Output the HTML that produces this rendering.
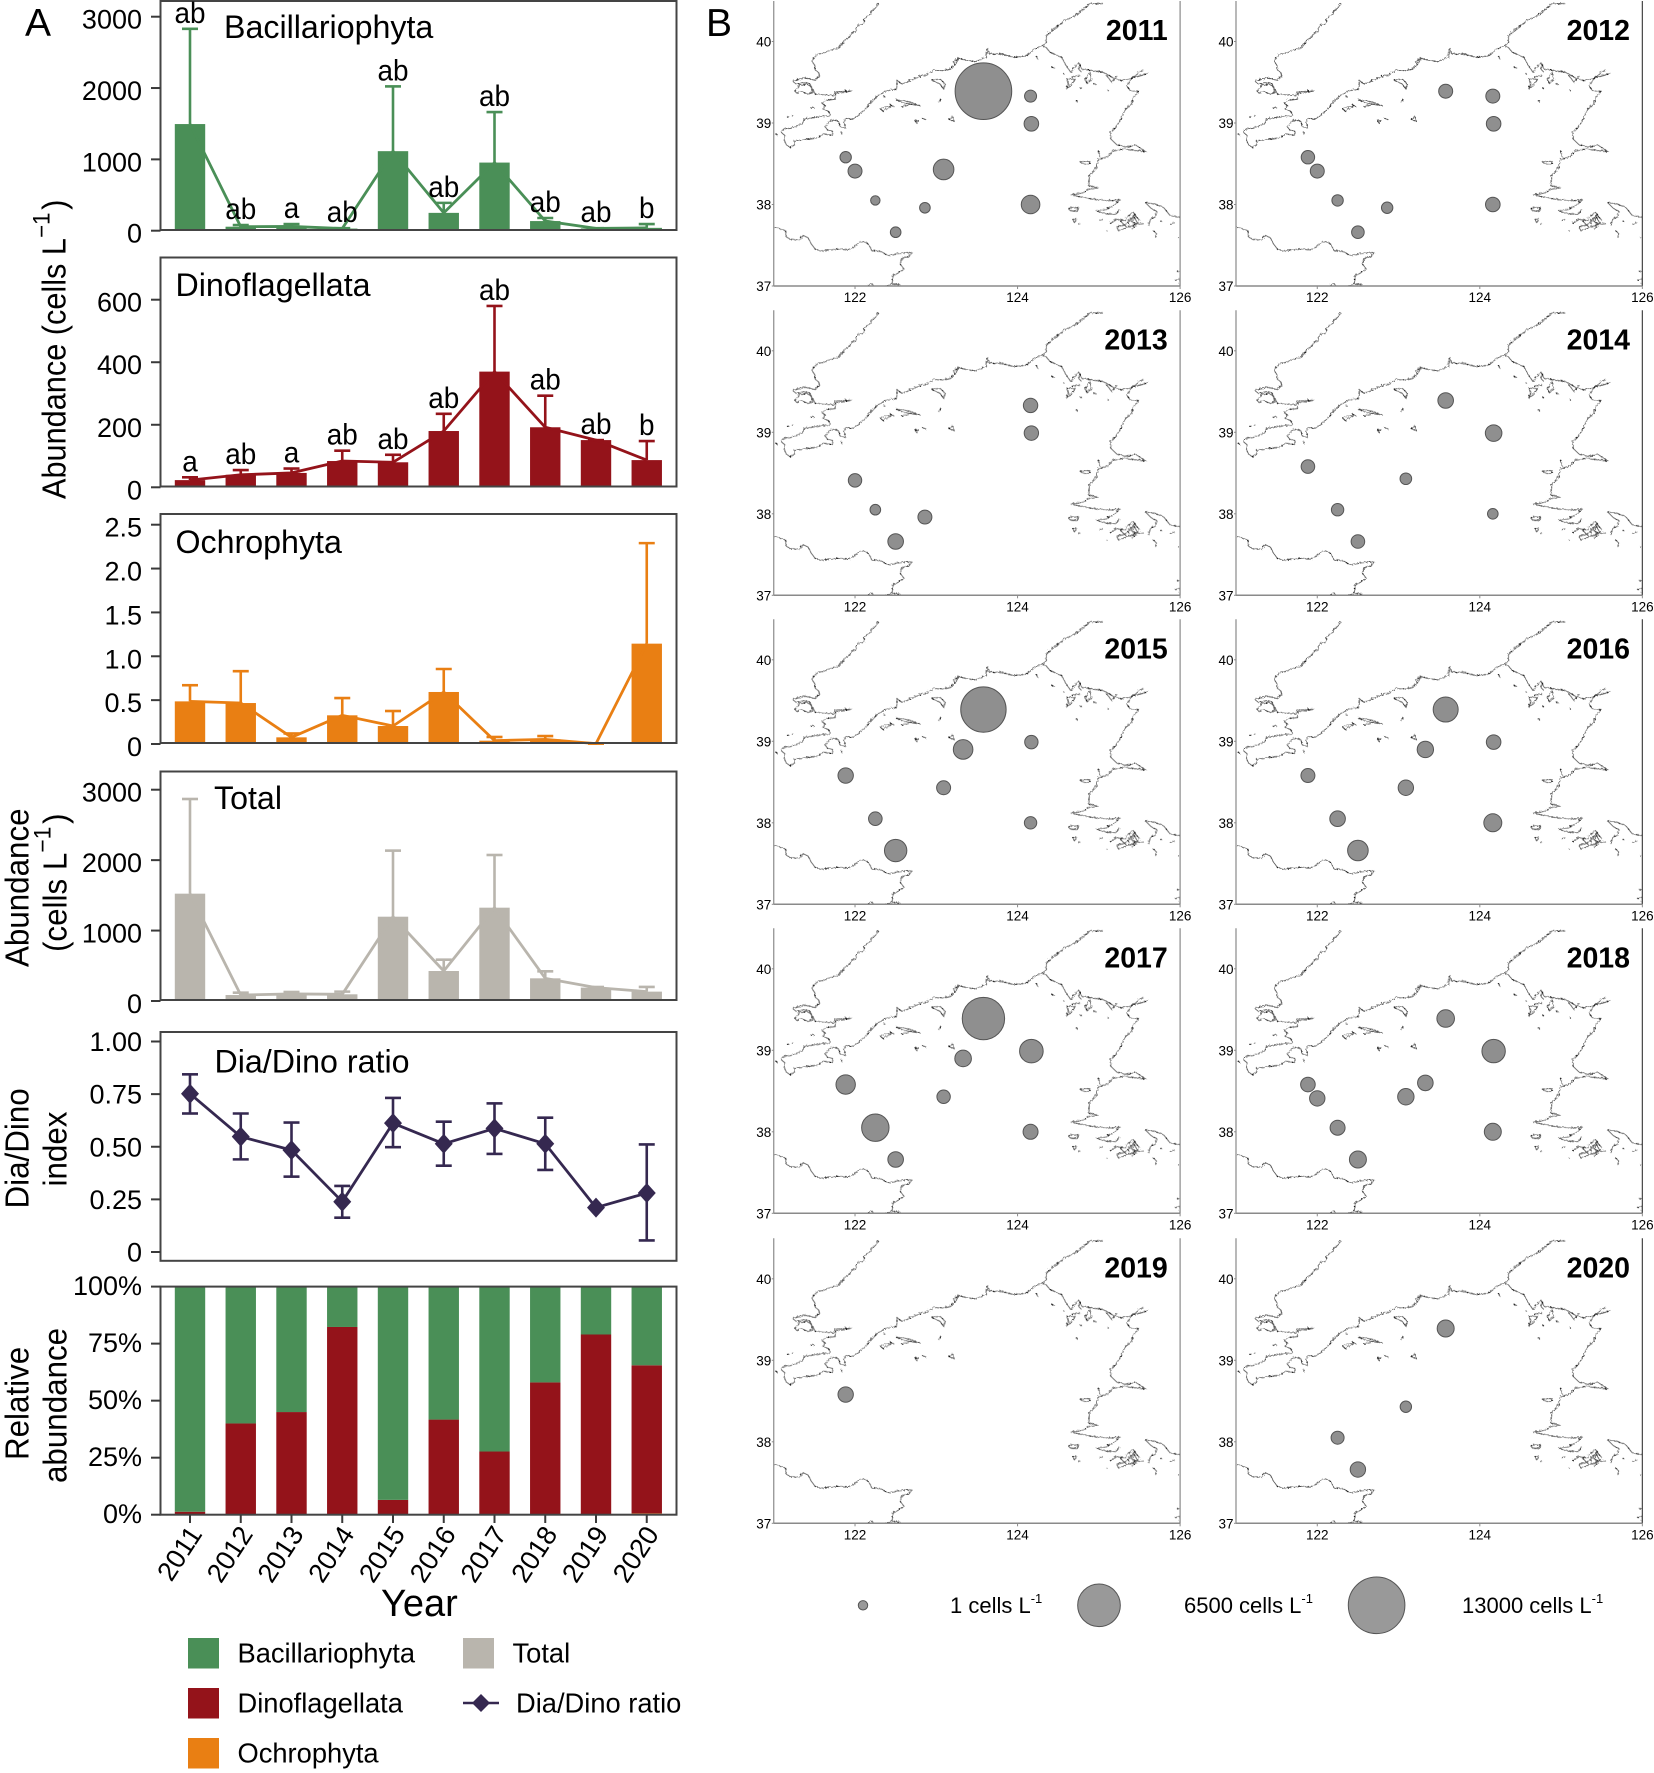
<!DOCTYPE html>
<html lang="en">
<head>
<meta charset="utf-8">
<title>Phytoplankton abundance 2011-2020</title>
<style>
html,body{margin:0;padding:0;background:#fff;}
svg{display:block;font-family:"Liberation Sans",Arial,sans-serif;}
text{fill:#000;}
</style>
</head>
<body>
<svg id="fig" xmlns="http://www.w3.org/2000/svg" width="1654" height="1773" viewBox="0 0 1654 1773">
<rect x="0" y="0" width="1654" height="1773" fill="#fff"/>
<defs>
<filter id="rough" x="-3%" y="-3%" width="106%" height="106%" filterUnits="objectBoundingBox">
<feTurbulence type="turbulence" baseFrequency="0.11" numOctaves="2" seed="4" result="n"/>
<feDisplacementMap in="SourceGraphic" in2="n" scale="8"/>
</filter>
<g id="coastLines">
<g transform="translate(210,0)">
<path d="M325 8 L318 18 L308 28 L300 42 L288 48 L282 56 L283 68 L268 72 L258 82 L258 92 L245 98 L238 108 L225 118 L218 126 L208 140 L195 146 L180 148 L165 155 L145 160 L130 172 L126 182 L134 195 L135 208 L145 215 L148 225 L135 238 L105 232 L85 236 L68 242 L78 250 L100 246 L118 248 L126 262 L135 280 L165 282 L190 285 L195 273 L220 272 L245 270 L215 276 L198 278 L195 295 L170 298 L155 308 L165 315 L158 325 L175 332 L182 345 L150 348 L125 352 L103 355 L95 370 L70 380 L40 386 L33 395 L45 405 L42 418 L48 432 L60 440 L72 432 L74 420 L95 418 L115 415 L140 412 L160 400 L186 403 L188 392 L172 388 L165 378 L176 366 L190 358 L205 362 L210 378 L225 382 L222 362 L228 352 L245 356 L262 345 L272 338 L285 325 L300 308 L312 295 L325 282 L350 270 L378 265 L382 240 L395 250 L420 240 L442 230 L470 222 L495 208 L520 210 L540 205 L555 192 L550 185 L565 172"/>
<path d="M485 238 L510 235 L525 250 L520 265 L510 250 Z M330 325 L345 318 L365 315 L340 332 Z M378 298 L405 300 L450 315 L420 310 L395 305 Z M395 318 L425 310 M360 312 L372 318 M435 362 L445 358 L440 368 Z M455 352 L470 358 M535 355 L548 348 L552 362 Z M75 272 L88 254 L110 250 L122 258 L128 275 L112 280 L95 272 L80 278 Z M50 348 L58 348 M65 345 L70 345 M122 322 L135 322 M18 402 L22 402 M215 395 L215 402 M512 295 L505 305 M340 288 L346 288"/>
</g>
<path d="M763 195 L775 172 L803 180 L828 182 L858 170 L863 142 L868 160 L903 160 L943 170 L978 165 L1003 145 L1028 135 L1038 125 L1038 105 L1063 85 L1093 60 L1133 40 L1168 10 L1208 8"/>
<g transform="translate(900,0)">
<path d="M125 135 L138 140 L150 155 L185 170 L195 190 L212 215 L235 185 L245 205 L275 210 L310 215 L340 232 L365 240 L395 232 L420 212 L430 208"/>
<path d="M400 230 L445 217" style="stroke-width:3"/>
<path d="M395 232 L380 255 L390 270 L415 272 L400 290 L395 310 L375 325 L365 350 L350 375 L332 395 L332 415 L350 432 L380 440 L405 432 L440 455 L415 450 L370 445 L340 450 L320 470 L295 475 L290 500 L268 525 L265 555 L295 562 L265 565 L250 575 L213 583 L250 590 L290 597 L325 600 L360 597 L345 610 L320 625 L290 632 L320 640 L345 640 L360 628"/>
<path d="M435 605 L465 610 L490 620 L510 645 L540 650 M435 605 L455 625 L470 632 L465 648 L450 655 L445 675"/>
<path d="M240 483 L270 482 L268 492 L245 488 Z M205 622 L235 620 L230 632 L210 630 Z M218 655 L230 655 L222 665 Z M235 672 L240 668 M298 660 L308 655 M295 450 L300 470 M330 668 L350 655 L375 660 L385 645 L400 635 L410 650 L420 660 L400 675 L380 680 L355 690 L350 678 L375 672 L390 655 L405 640 L395 665 L420 670 L430 668 M385 670 L400 645 L412 668 L395 685 M360 660 L380 680 M460 690 L470 700 L465 710 M510 672 L525 665 M480 660 L485 662 M530 812 L540 812 M525 838 L540 835 L538 855 M534 710 L536 712 M320 690 L322 692"/>
<path d="M200 235 L225 235 L215 250 L200 265 L205 245 Z M255 235 L270 215 L275 235 L260 248 Z M240 190 L235 205 L245 215 M320 225 L335 245 L350 225 M155 200 L165 203 M190 218 L192 220 M232 300 L230 305 M322 268 L325 270 M108 165 L112 175 M240 262 L246 262 M215 230 L240 225 M280 250 L290 252"/>
</g>
<path d="M223 680 L240 684 L256 690 L258 708 L270 716 L300 718 L308 703 L325 712 L332 728 L345 745 L365 752 L385 748 L420 745 L450 748 L470 730 L488 722 L505 730 L515 750 L540 752 L565 765 L595 758 L635 755 L625 768 L608 772 L600 790 L612 805 L595 815 L578 825 L575 850 L600 852 M505 855 L515 848 L522 858 M560 855 L575 852"/>
</g>
<symbol id="coast" viewBox="223 0 1219 858" preserveAspectRatio="none" overflow="hidden">
<g filter="url(#rough)">
<g fill="none" stroke="#555" stroke-width="2.5" stroke-linejoin="round"><use href="#coastLines"/></g>
<g fill="none" stroke="#111" stroke-width="3" stroke-dasharray="4 30"><use href="#coastLines"/></g>
</g>
</symbol>
</defs>

<text x="25" y="36" font-size="39">A</text>
<text x="706" y="36" font-size="39">B</text>

<text transform="translate(65.5,499) rotate(-90) scale(0.93,1)" font-size="33">Abundance (cells L<tspan dy="-16" font-size="24">−1</tspan><tspan dy="16" dx="3">)</tspan></text>
<text transform="translate(28.5,967) rotate(-90) scale(0.95,1)" font-size="33">Abundance</text>
<text transform="translate(66.5,952) rotate(-90) scale(0.95,1)" font-size="33">(cells L<tspan dy="-16" font-size="24">−1</tspan><tspan dy="16" dx="3">)</tspan></text>
<text transform="translate(28.5,1208.5) rotate(-90) scale(0.95,1)" font-size="33">Dia/Dino</text>
<text transform="translate(66.5,1186.5) rotate(-90) scale(0.95,1)" font-size="33">index</text>
<text transform="translate(28.5,1460) rotate(-90) scale(0.95,1)" font-size="33">Relative</text>
<text transform="translate(66.5,1483) rotate(-90) scale(0.95,1)" font-size="33">abundance</text>
<text x="381" y="1616" font-size="38">Year</text>

<g font-size="27.3">
<rect x="188" y="1638" width="31" height="30.5" fill="#4a8f57"/>
<text x="237.5" y="1662.5">Bacillariophyta</text>
<rect x="188" y="1688" width="31" height="30.5" fill="#94131a"/>
<text x="237.5" y="1712.5">Dinoflagellata</text>
<rect x="188" y="1738" width="31" height="30.5" fill="#e97f13"/>
<text x="237.5" y="1762.5">Ochrophyta</text>
<rect x="463" y="1638" width="31" height="30.5" fill="#b9b5ad"/>
<text x="512.5" y="1662.5">Total</text>
<line x1="463" y1="1703" x2="499" y2="1703" stroke="#352850" stroke-width="2.5"/>
<path d="M481 1694 L490 1703 L481 1712 L472 1703 Z" fill="#352850"/>
<text x="516" y="1712.5">Dia/Dino ratio</text>
</g>

<g id="panels"></g>
<g id="maps"></g>
<g id="sizeLegend" font-size="22">
<text x="950" y="1613">1 cells L<tspan dy="-10" font-size="13">-1</tspan></text>
<text x="1184" y="1613">6500 cells L<tspan dy="-10" font-size="13">-1</tspan></text>
<text x="1462" y="1613">13000 cells L<tspan dy="-10" font-size="13">-1</tspan></text>
</g>
</svg>

<script>
// ---------- chart data ----------
const years = [2011, 2012, 2013, 2014, 2015, 2016, 2017, 2018, 2019, 2020];

const bacilMeans = [1495, 56, 60, 30, 1115, 250, 955, 135, 32, 40];
const bacilUpper = [2830, 80, 93, 35, 2023, 390, 1663, 178, 35, 93];
const bacilLetters = ['ab', 'ab', 'a', 'ab', 'ab', 'ab', 'ab', 'ab', 'ab', 'b'];
const bacilTicks = [0, 1000, 2000, 3000];

const dinoMeans = [23, 40, 46, 84, 80, 180, 370, 192, 151, 87];
const dinoUpper = [32, 55, 60, 117, 104, 235, 580, 293, 151, 148];
const dinoLetters = ['a', 'ab', 'a', 'ab', 'ab', 'ab', 'ab', 'ab', 'ab', 'b'];
const dinoTicks = [0, 200, 400, 600];

const ochroMeans = [0.486, 0.467, 0.076, 0.327, 0.205, 0.593, 0.038, 0.053, 0.004, 1.144];
const ochroUpper = [0.67, 0.83, 0.12, 0.524, 0.376, 0.855, 0.08, 0.09, 0.004, 2.29];
const ochroTicks = [0, 0.5, 1.0, 1.5, 2.0, 2.5];
const ochroTickLabels = ['0', '0.5', '1.0', '1.5', '2.0', '2.5'];

const totalMeans = [1524, 85, 100, 95, 1197, 426, 1325, 322, 190, 133];
const totalUpper = [2868, 118, 128, 133, 2135, 587, 2073, 421, 199, 199];
const totalTicks = [0, 1000, 2000, 3000];

const ratioMeans = [0.752, 0.548, 0.484, 0.239, 0.612, 0.514, 0.587, 0.514, 0.211, 0.28];
const ratioUpper = [0.844, 0.658, 0.615, 0.314, 0.732, 0.619, 0.706, 0.638, 0.211, 0.511];
const ratioLower = [0.658, 0.44, 0.358, 0.163, 0.498, 0.41, 0.466, 0.39, 0.211, 0.055];
const ratioTicks = [0, 0.25, 0.5, 0.75, 1];
const ratioTickLabels = ['0', '0.25', '0.50', '0.75', '1.00'];

const relOchro = [0, 0, 0, 0, 0, 0, 0, 0, 0, 0.6];
const relDino = [1.3, 40, 45, 82.3, 6.5, 41.7, 27.7, 58, 79, 64.9];
const relBacil = [98.7, 60, 55, 17.7, 93.5, 58.3, 72.3, 42, 21, 34.5];
const relTicks = [0, 25, 50, 75, 100];
const relTickLabels = ['0%', '25%', '50%', '75%', '100%'];

// ---------- map data ----------
const stationLon = [123.58, 124.16, 124.17, 121.885, 122.0, 123.09, 122.25, 122.86, 124.16, 122.5, 123.33, 123.33];
const stationLat = [39.39, 39.33, 38.99, 38.58, 38.41, 38.43, 38.05, 37.96, 38.0, 37.66, 38.9, 38.6];
const abundance2011 = [13000, 52, 180, 33, 143, 770, 1, 15, 528, 15, null, null];
const abundance2012 = [143, 143, 180, 111, 143, null, 33, 33, 180, 74, null, null];
const abundance2013 = [null, 167, 167, null, 111, null, 15, 143, null, 249, null, null];
const abundance2014 = [249, null, 331, 121, null, 39, 66, null, 15, 121, null, null];
const abundance2015 = [7590, null, 111, 234, null, 143, 121, null, 66, 1028, 643, null];
const abundance2016 = [1466, null, 180, 143, null, 234, 249, null, 464, 770, 313, null];
const abundance2017 = [6390, null, 1220, 619, null, 111, 1940, null, 206, 249, 331, null];
const abundance2018 = [423, null, 1187, 180, 234, 313, 206, null, 366, 366, null, 249];
const abundance2019 = [null, null, null, 234, null, null, null, null, null, null, null, null];
const abundance2020 = [366, null, null, null, null, 33, 92, null, null, 234, null, null];
const mapYears = [2011, 2012, 2013, 2014, 2015, 2016, 2017, 2018, 2019, 2020];
const mapSeries = [abundance2011, abundance2012, abundance2013, abundance2014, abundance2015, abundance2016, abundance2017, abundance2018, abundance2019, abundance2020];
const lonTicks = [122, 124, 126];
const latTicks = [37, 38, 39, 40];
const sizeLegendValues = [1, 6500, 13000];

// ---------- helpers ----------
const NS = 'http://www.w3.org/2000/svg';
function make(tag, parent, attrs) {
  const e = document.createElementNS(NS, tag);
  for (const k in attrs) e.setAttribute(k, attrs[k]);
  parent.appendChild(e);
  return e;
}
function linear(v0, p0, v1, p1) {
  return function (v) { return p0 + (v - v0) * (p1 - p0) / (v1 - v0); };
}
function xBand(i) { return 190 + 50.75 * i; }
const BAR_W = 30.4, FRAME_L = 160.5, FRAME_R = 676.5;

function addLabel(parent, str, x, y, size, anchor, name) {
  const t = make('text', parent, { x: x, y: y, 'font-size': size, 'text-anchor': anchor });
  t.textContent = str;
  
  
  return t;
}
function addYAxis(parent, scale, ticks, labels, offset, key) {
  ticks.forEach(function (tv, i) {
    const y = scale(tv);
    const tick = make('line', parent, { x1: 151, x2: FRAME_L, y1: y, y2: y, stroke: '#3a3a3a', 'stroke-width': 2 });
    
    
    addLabel(parent, labels ? labels[i] : String(tv), 142, y + offset, 27, 'end', key + '-y-tick-label');
  });
}
function addFrame(parent, top, bottom, key) {
  const r = make('rect', parent, { x: FRAME_L, y: top, width: FRAME_R - FRAME_L, height: bottom - top, fill: 'none', stroke: '#444', 'stroke-width': 2 });
  
  
}
function addLine(parent, points, color, width, name) {
  const p = make('polyline', parent, { points: points.join(' '), fill: 'none', stroke: color, 'stroke-width': width, 'stroke-linejoin': 'round' });
  
  
}
function addSeg(parent, x1, y1, x2, y2, color, name) {
  const l = make('line', parent, { x1: x1, y1: y1, x2: x2, y2: y2, stroke: color, 'stroke-width': 2.6 });
  
  
}

function barPanel(key, title, titleX, titleY, top, bottom, scale, means, upper, letters, ticks, tickLabels, color) {
  const root = document.getElementById('panels');
  const g = make('g', root, {});
  
  
  const base = scale(0);
  means.forEach(function (v, i) {
    const y = scale(v);
    const b = make('rect', g, { x: xBand(i) - BAR_W / 2, y: y, width: BAR_W, height: Math.max(0, base - y), fill: color });
    
    
  });
  means.forEach(function (v, i) {
    const yU = scale(upper[i]);
    if (upper[i] > v) {
      addSeg(g, xBand(i), scale(v), xBand(i), yU, color, key + '-error-' + years[i]);
    }
    addSeg(g, xBand(i) - 8, yU, xBand(i) + 8, yU, color, key + '-error-cap-' + years[i]);
  });
  addLine(g, means.map(function (v, i) { return xBand(i) + ',' + scale(v); }), color, 2.8, key + '-trend-line');
  addFrame(g, top, bottom, key);
  addYAxis(g, scale, ticks, tickLabels, 12, key);
  if (letters) {
    letters.forEach(function (s, i) {
      const t = addLabel(g, s, 0, 0, 30, 'middle', key + '-letter-' + years[i]);
      t.setAttribute('transform', 'translate(' + xBand(i) + ',' + (scale(Math.max(upper[i], means[i])) - 6) + ') scale(0.93,1)');
    });
  }
  addLabel(g, title, titleX, titleY, 32.2, 'start', key + '-title');
}

barPanel('bacillariophyta', 'Bacillariophyta', 224, 38, 1, 230, linear(0, 230.7, 3000, 16.7), bacilMeans, bacilUpper, bacilLetters, bacilTicks, null, '#4a8f57');
barPanel('dinoflagellata', 'Dinoflagellata', 175.5, 296, 257.5, 486.5, linear(0, 487.3, 600, 299.7), dinoMeans, dinoUpper, dinoLetters, dinoTicks, null, '#94131a');
barPanel('ochrophyta', 'Ochrophyta', 175.5, 553, 514, 743, linear(0, 744, 2.5, 524.7), ochroMeans, ochroUpper, null, ochroTicks, ochroTickLabels, '#e97f13');
barPanel('total', 'Total', 214, 809, 771.5, 1000, linear(0, 1001, 3000, 789.7), totalMeans, totalUpper, null, totalTicks, null, '#b9b5ad');

// ratio panel
(function () {
  const root = document.getElementById('panels');
  const g = make('g', root, {});
  
  
  const key = 'ratio', color = '#352850';
  const y = linear(0, 1252, 1, 1041.5);
  addFrame(g, 1032, 1260.8, key);
  addYAxis(g, y, ratioTicks, ratioTickLabels, 9.5, key);
  ratioMeans.forEach(function (v, i) {
    const x = xBand(i);
    if (ratioUpper[i] > ratioLower[i]) {
      addSeg(g, x, y(ratioLower[i]), x, y(ratioUpper[i]), color, 'ratio-error-' + years[i]);
      addSeg(g, x - 8, y(ratioUpper[i]), x + 8, y(ratioUpper[i]), color, 'ratio-error-cap-upper-' + years[i]);
      addSeg(g, x - 8, y(ratioLower[i]), x + 8, y(ratioLower[i]), color, 'ratio-error-cap-lower-' + years[i]);
    }
  });
  addLine(g, ratioMeans.map(function (v, i) { return xBand(i) + ',' + y(v); }), color, 2.8, 'ratio-line');
  ratioMeans.forEach(function (v, i) {
    const x = xBand(i), c = y(v);
    const d = make('path', g, { d: 'M' + x + ' ' + (c - 10) + ' L' + (x + 9) + ' ' + c + ' L' + x + ' ' + (c + 10) + ' L' + (x - 9) + ' ' + c + ' Z', fill: color });
    
    
  });
  addLabel(g, 'Dia/Dino ratio', 214.5, 1072.5, 32.2, 'start', 'ratio-title');
})();

// relative abundance panel
(function () {
  const root = document.getElementById('panels');
  const g = make('g', root, {});
  
  
  const key = 'relative';
  const y = linear(0, 1514.7, 100, 1286.6);
  function seg(i, from, size, color, name) {
    const r = make('rect', g, { x: xBand(i) - BAR_W / 2, y: y(from + size), width: BAR_W, height: y(from) - y(from + size), fill: color });
    
    
  }
  years.forEach(function (yr, i) {
    seg(i, 0, relOchro[i], '#e97f13', 'relative-ochrophyta');
    seg(i, relOchro[i], relDino[i], '#94131a', 'relative-dinoflagellata');
    seg(i, relOchro[i] + relDino[i], relBacil[i], '#4a8f57', 'relative-bacillariophyta');
  });
  addFrame(g, 1286.6, 1514.7, key);
  addYAxis(g, y, relTicks, relTickLabels, 8.5, key);
  years.forEach(function (yr, i) {
    const x = xBand(i);
    const tick = make('line', g, { x1: x, x2: x, y1: 1514.7, y2: 1523, stroke: '#3a3a3a', 'stroke-width': 2 });
    
    
    const t = addLabel(g, String(yr), 0, 0, 27, 'end', 'x-tick-label-' + yr);
    t.setAttribute('transform', 'translate(' + (x + 13) + ',1534) rotate(-57)');
  });
})();

// ---------- maps ----------
const mapRowBottoms = [286, 595.3, 904.3, 1213.3, 1523.3];
const mapColLefts = [773.75, 1236];
const PX_PER_LON = 81.27, PX_PER_LAT = 81.5;
function sizeScale(v) { return 4.5 + 0.2088 * Math.sqrt(v); }

(function () {
  const root = document.getElementById('maps');
  mapYears.forEach(function (yr, idx) {
    const row = Math.floor(idx / 2), col = idx % 2;
    const left = mapColLefts[col], bottom = mapRowBottoms[row];
    const xS = linear(121, left, 126, left + 5 * PX_PER_LON);
    const yS = linear(37, bottom, 40, bottom - 3 * PX_PER_LAT);
    const right = xS(126), top = bottom - 285;
    const g = make('g', root, {});
    
    

    const coast = make('use', g, { href: '#coast', x: left, y: bottom - 286, width: right - left, height: 286 });
    
    

    const spineColor = '#8a8a8a';
    const spineL = make('line', g, { x1: left, x2: left, y1: top, y2: bottom, stroke: spineColor, 'stroke-width': 1.2 });
    
    
    const spineR = make('line', g, { x1: right, x2: right, y1: top, y2: bottom, stroke: col ? '#444' : spineColor, 'stroke-width': 1.2 });
    
    
    const spineB = make('line', g, { x1: left, x2: right, y1: bottom, y2: bottom, stroke: spineColor, 'stroke-width': 1.5 });
    
    

    lonTicks.forEach(function (lon) {
      const x = xS(lon);
      const tk = make('line', g, { x1: x, x2: x, y1: bottom, y2: bottom + 3, stroke: spineColor, 'stroke-width': 1 });
      
      
      addLabel(g, String(lon), x, bottom + 16, 13.5, 'middle', 'map-lon-label');
    });
    latTicks.forEach(function (lat) {
      const y = yS(lat);
      const tk = make('line', g, { x1: left - 2, x2: left, y1: y, y2: y, stroke: spineColor, 'stroke-width': 1 });
      
      
      addLabel(g, String(lat), left - 2.5, y + 5, 13.5, 'end', 'map-lat-label');
    });

    const values = mapSeries[idx];
    values.forEach(function (v, s) {
      if (v === null) return;
      const c = make('circle', g, { cx: xS(stationLon[s]), cy: yS(stationLat[s]), r: sizeScale(v), fill: '#8f8f8f', stroke: '#555', 'stroke-width': 1 });
      
      
    });

    const t = make('text', g, { x: left + 394, y: bottom - 246, 'font-size': 28.5, 'font-weight': 'bold', 'text-anchor': 'end' });
    t.textContent = String(yr);
    
    
  });

  const legend = document.getElementById('sizeLegend');
  const legendX = [863, 1099, 1376.6];
  sizeLegendValues.forEach(function (v, i) {
    const c = make('circle', legend, { cx: legendX[i], cy: 1605.3, r: sizeScale(v), fill: '#999', stroke: '#555', 'stroke-width': 1 });
    
    
  });
})();
</script>
</body>
</html>
